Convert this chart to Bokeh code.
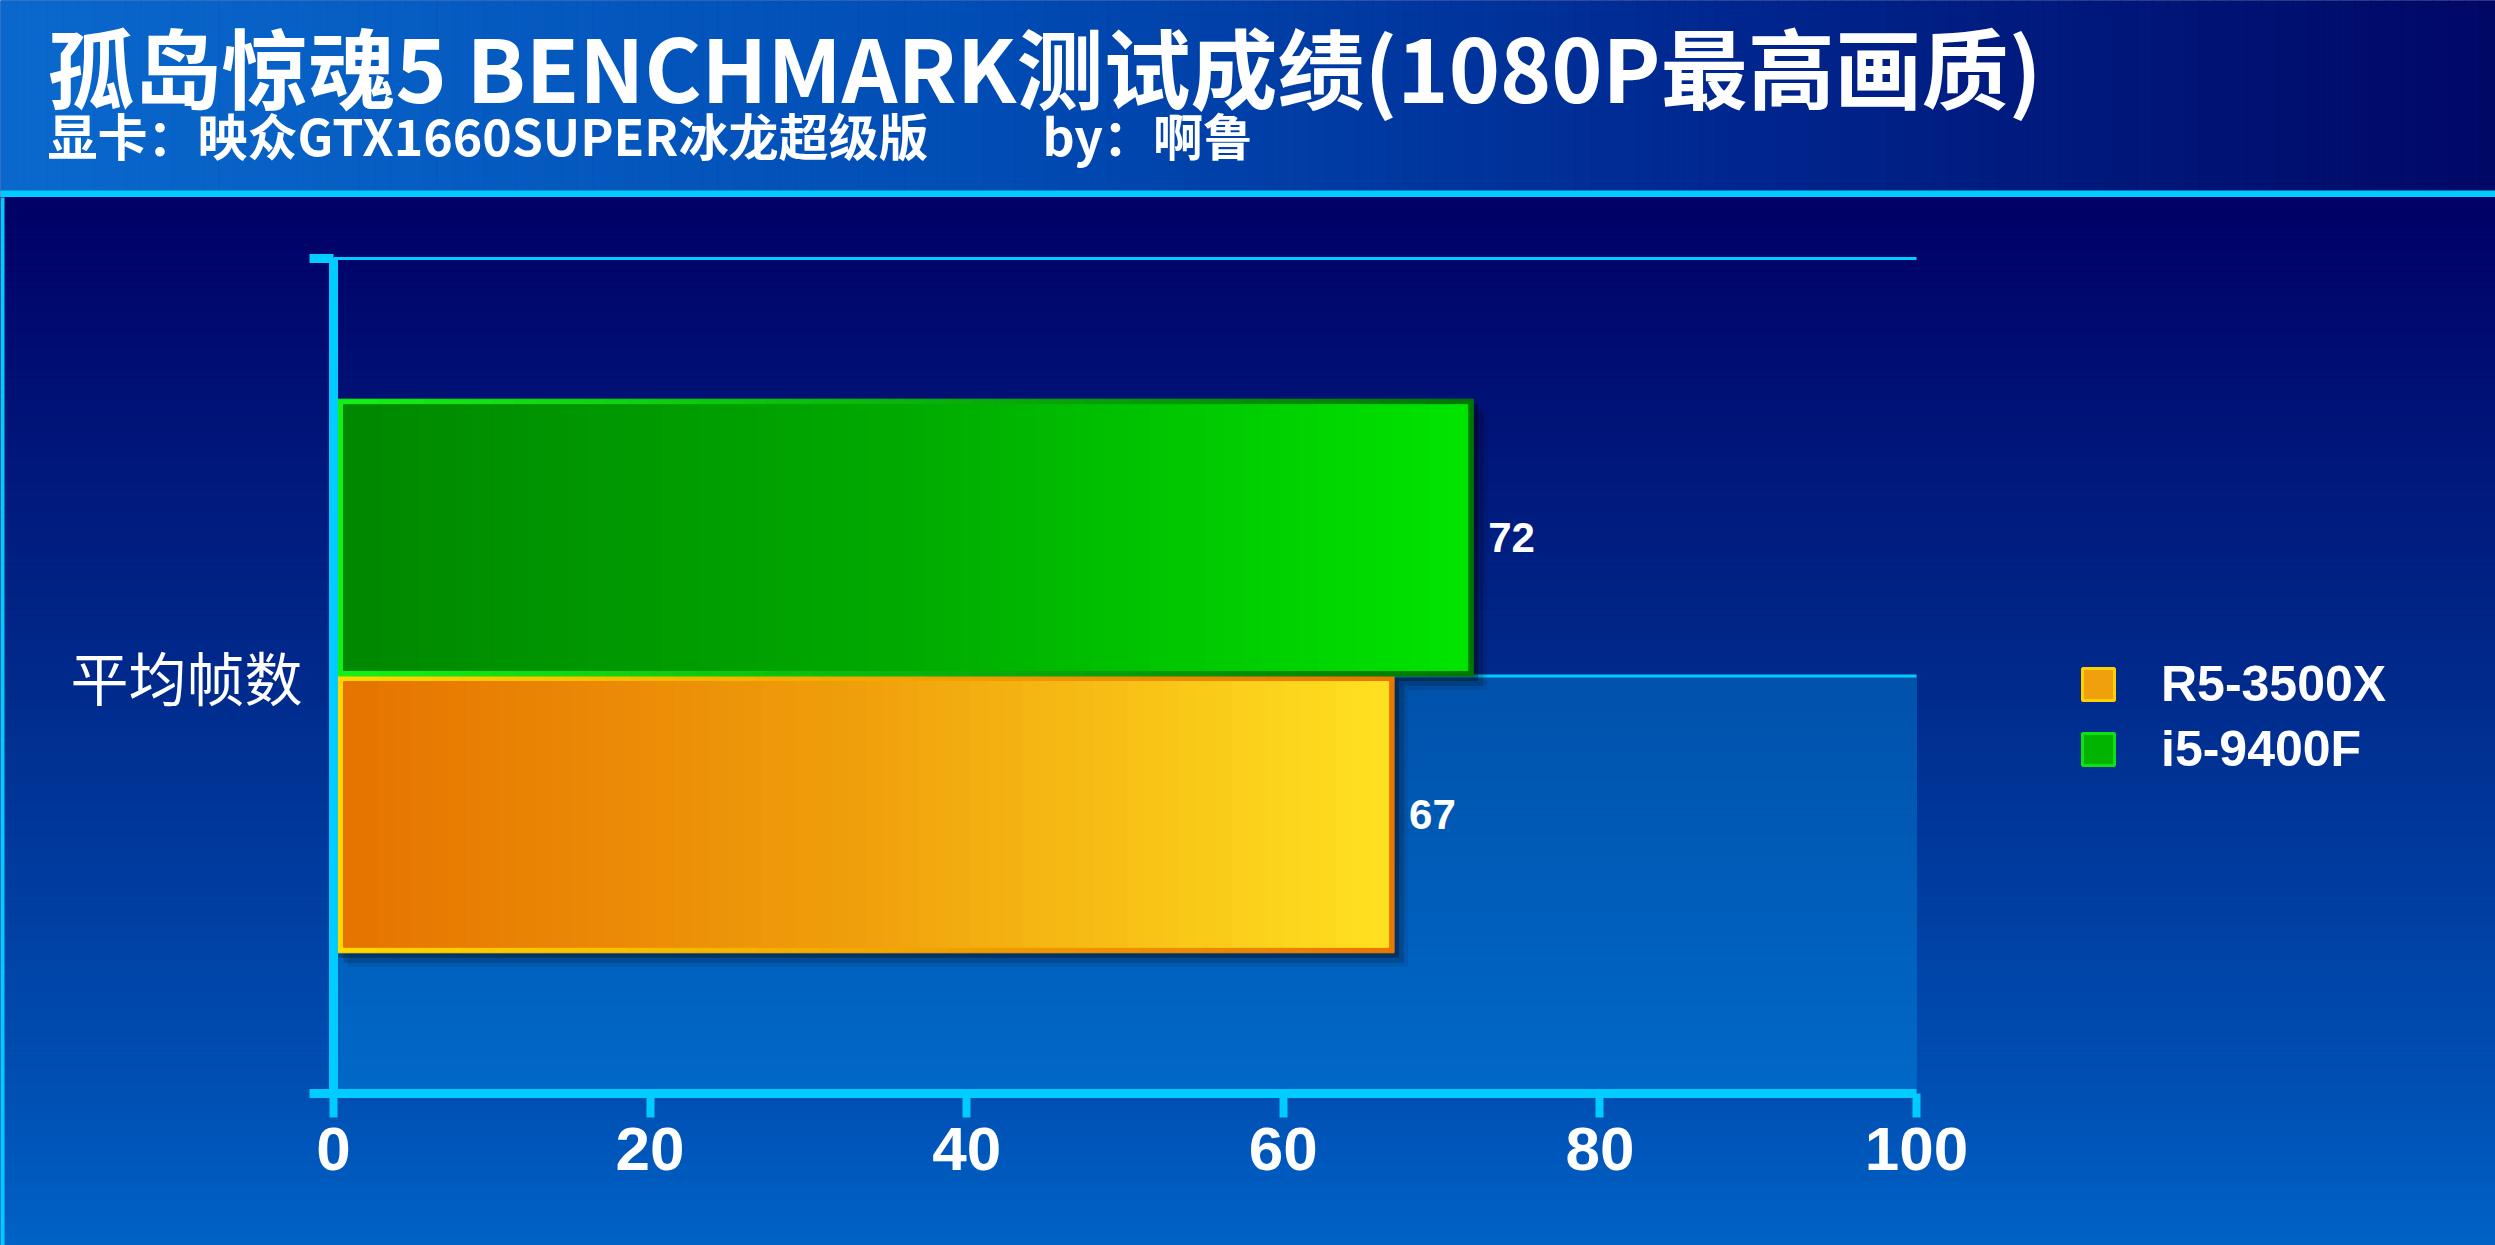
import numpy as np
from bokeh.plotting import figure
from bokeh.models import Range1d, LinearAxis, FixedTicker, Label, Legend, LegendItem
from bokeh.embed import file_html
from bokeh.resources import INLINE
from bokeh.core.properties import value

# ---------------- data ----------------
title_text = "孤岛惊魂5 BENCHMARK测试成绩(1080P最高画质)"
subtitle_card = "显卡：映众GTX1660SUPER冰龙超级版"
subtitle_author = "by：啊鲁"
categories = ["平均帧数"]
series_names = ["R5-3500X", "i5-9400F"]
r5_3500x = [67]
i5_9400f = [72]
x_ticks = [0, 20, 40, 60, 80, 100]

# ---------------- geometry helpers (pixel -> data) ----------------
W, H = 2495, 1245
X0_PX, PX_PER_UNIT = 333.0, 15.83
Y0_PX, PX_PER_CAT = 1093.0, 835.0


def X(px):
    return (px - X0_PX) / PX_PER_UNIT


def Y(py):
    return (Y0_PX - py) / PX_PER_CAT


def dx(px):
    return px / PX_PER_UNIT


def dy(px):
    return px / PX_PER_CAT


def grad(stops, n):
    ts = np.linspace(0, 1, n)
    st = [s[0] for s in stops]
    rgb = np.array([[int(c[i:i + 2], 16) for i in (1, 3, 5)] for _, c in stops], float)
    out = []
    for t in ts:
        r, g, b = (np.interp(t, st, rgb[:, j]) for j in range(3))
        out.append("#%02x%02x%02x" % (int(round(r)), int(round(g)), int(round(b))))
    return out


def hstrips(p, left, right, bottom, top, stops, n):
    e = np.linspace(left, right, n + 1)
    cols = grad(stops, n)
    p.quad(left=e[:-1], right=e[1:], bottom=[bottom] * n, top=[top] * n,
           fill_color=cols, line_color=cols, line_width=1)


def vstrips(p, left, right, top, bottom, stops, n):
    e = np.linspace(top, bottom, n + 1)
    cols = grad(stops, n)
    p.quad(left=[left] * n, right=[right] * n, top=e[:-1], bottom=e[1:],
           fill_color=cols, line_color=cols, line_width=1)


p = figure(width=W, height=H,
           x_range=Range1d(X(0), X(W)),
           y_range=Range1d(Y(H), Y(0)),
           output_backend="svg", toolbar_location=None,
           x_axis_type=None, y_axis_type=None, min_border=0)
p.outline_line_color = None
p.background_fill_color = "#000066"
p.border_fill_color = "#000066"
p.grid.visible = False

L, R = X(0), X(W)
B = Y(H)

# header (horizontal gradient)
hstrips(p, L, R, Y(190), Y(0),
        [(0, "#0a68cc"), (0.4, "#004cb4"), (0.7, "#00268e"), (1.0, "#000866")], 160)
# cyan stripe
p.quad(left=[L], right=[R], bottom=[Y(197)], top=[Y(190)], fill_color="#00ccff", line_color=None)
# body (vertical gradient)
vstrips(p, L, R, Y(197), B,
        [(0, "#000066"), (0.46, "#002a8c"), (0.86, "#0050b4"), (1.0, "#0062c6")], 140)
# left frame line
p.quad(left=[L], right=[X(4)], bottom=[B], top=[Y(197)], fill_color="#00ccff", line_color=None)

ncat = len(categories)
xmax = x_ticks[-1]
# lighter lower part of plot area
vstrips(p, 0, xmax, 0.5, 0, [(0, "#0052aa"), (1, "#0068c8")], 60)
# gridlines
grid_y = [i + 0.5 for i in range(ncat)] + [ncat]
p.segment(x0=[0] * len(grid_y), x1=[xmax] * len(grid_y), y0=grid_y, y1=grid_y,
          line_color="#00ccff", line_width=3)

# bars
series_values = [r5_3500x, i5_9400f]
fill_stops = [
    [(0, "#e67400"), (0.5, "#f0a00c"), (1, "#ffe020")],
    [(0, "#008800"), (0.5, "#00aa00"), (1, "#00e400")],
]
border_stops = [
    [(0, "#ffd800"), (1, "#e87800")],
    [(0, "#14f014"), (1, "#007800")],
]
legend_mid = ["#f0a00c", "#00b400"]
legend_line = ["#ffd000", "#10e010"]
bar_h = 0.3315
legend_renderers = []

# shadows first
for k, vals in enumerate(series_values):
    for i, v in enumerate(vals):
        yc = i + 0.5 + (k - 0.5) * bar_h
        yb, yt = yc - bar_h / 2, yc + bar_h / 2
        for off, a in ((5, 0.30), (10, 0.16), (14, 0.08)):
            p.quad(left=[dx(off)], right=[v + dx(off)], bottom=[yb - dy(off)], top=[yt - dy(off)],
                   fill_color="black", fill_alpha=a, line_color=None)

bw = 5.5
for k, vals in enumerate(series_values):
    for i, v in enumerate(vals):
        yc = i + 0.5 + (k - 0.5) * bar_h
        yb, yt = yc - bar_h / 2, yc + bar_h / 2
        r = p.quad(left=[dx(2)], right=[v - dx(2)], bottom=[yb + dy(2)], top=[yt - dy(2)],
                   fill_color=legend_mid[k], line_color=legend_line[k], line_width=3)
        legend_renderers.append(r)
        hstrips(p, 0, v, yb, yt, border_stops[k], 50)
        hstrips(p, dx(10), v - dx(bw), yb + dy(bw), yt - dy(bw), fill_stops[k], 60)
        p.text(x=[v], y=[yc], text=[str(v)], x_offset=15, text_baseline="middle",
               text_align="left", text_color="white", text_font=value("Liberation Sans"),
               text_font_style="bold", text_font_size="42px")

# axes
CY = "#00ccff"
xaxis = LinearAxis(fixed_location=0, ticker=FixedTicker(ticks=x_ticks), bounds=(x_ticks[0], x_ticks[-1]))
xaxis.axis_line_color = CY
xaxis.axis_line_width = 9
xaxis.major_tick_line_color = CY
xaxis.major_tick_line_width = 8
xaxis.major_tick_out = 24
xaxis.major_tick_in = 0
xaxis.minor_tick_out = 0
xaxis.minor_tick_in = 0
xaxis.major_label_standoff = 10
xaxis.major_label_text_font = "Liberation Sans"
xaxis.major_label_text_font_style = "bold"
xaxis.major_label_text_font_size = "62px"
xaxis.major_label_text_color = "white"
p.add_layout(xaxis, "below")

ybound = LinearAxis(fixed_location=0, ticker=FixedTicker(ticks=[0, ncat]), bounds=(0, ncat))
ybound.axis_line_color = CY
ybound.axis_line_width = 9
ybound.major_tick_line_color = CY
ybound.major_tick_line_width = 9
ybound.major_tick_out = 24
ybound.major_tick_in = 0
ybound.minor_tick_out = 0
ybound.minor_tick_in = 0
ybound.major_label_text_alpha = 0
p.add_layout(ybound, "left")

ylab = LinearAxis(fixed_location=0, ticker=FixedTicker(ticks=[i + 0.5 for i in range(ncat)]),
                  major_label_overrides={i + 0.5: c for i, c in enumerate(categories)})
ylab.axis_line_alpha = 0
ylab.major_tick_line_alpha = 0
ylab.major_tick_out = 0
ylab.major_tick_in = 0
ylab.minor_tick_out = 0
ylab.minor_tick_in = 0
ylab.major_label_standoff = 31
ylab.major_label_text_font = "Noto Sans CJK SC"
ylab.major_label_text_font_size = "58px"
ylab.major_label_text_color = "white"
p.add_layout(ylab, "left")

# legend
legend = Legend(items=[LegendItem(label=n, renderers=[r]) for n, r in zip(series_names, legend_renderers)],
                location=(2078, 467), orientation="vertical",
                glyph_width=40, glyph_height=40, label_height=40, spacing=7,
                label_standoff=43, padding=0, margin=0,
                background_fill_alpha=0, border_line_alpha=0,
                label_text_font="Liberation Sans", label_text_font_style="bold",
                label_text_font_size="50px", label_text_color="white")
p.add_layout(legend)

# titles
p.add_layout(Label(x=X(47), y=Y(1), text=title_text, text_color="white",
                   text_font="Noto Sans CJK SC", text_font_style="bold",
                   text_font_size="87px", text_baseline="top"))
p.add_layout(Label(x=X(47), y=Y(133), text=subtitle_card, text_color="white",
                   text_font="Noto Sans CJK SC", text_font_style="bold",
                   text_font_size="50px", text_baseline="alphabetic"))
p.add_layout(Label(x=X(1042), y=Y(133), text=subtitle_author, text_color="white",
                   text_font="Noto Sans CJK SC", text_font_style="bold",
                   text_font_size="50px", text_baseline="alphabetic"))

open("out.html", "w").write(file_html(p, INLINE))
